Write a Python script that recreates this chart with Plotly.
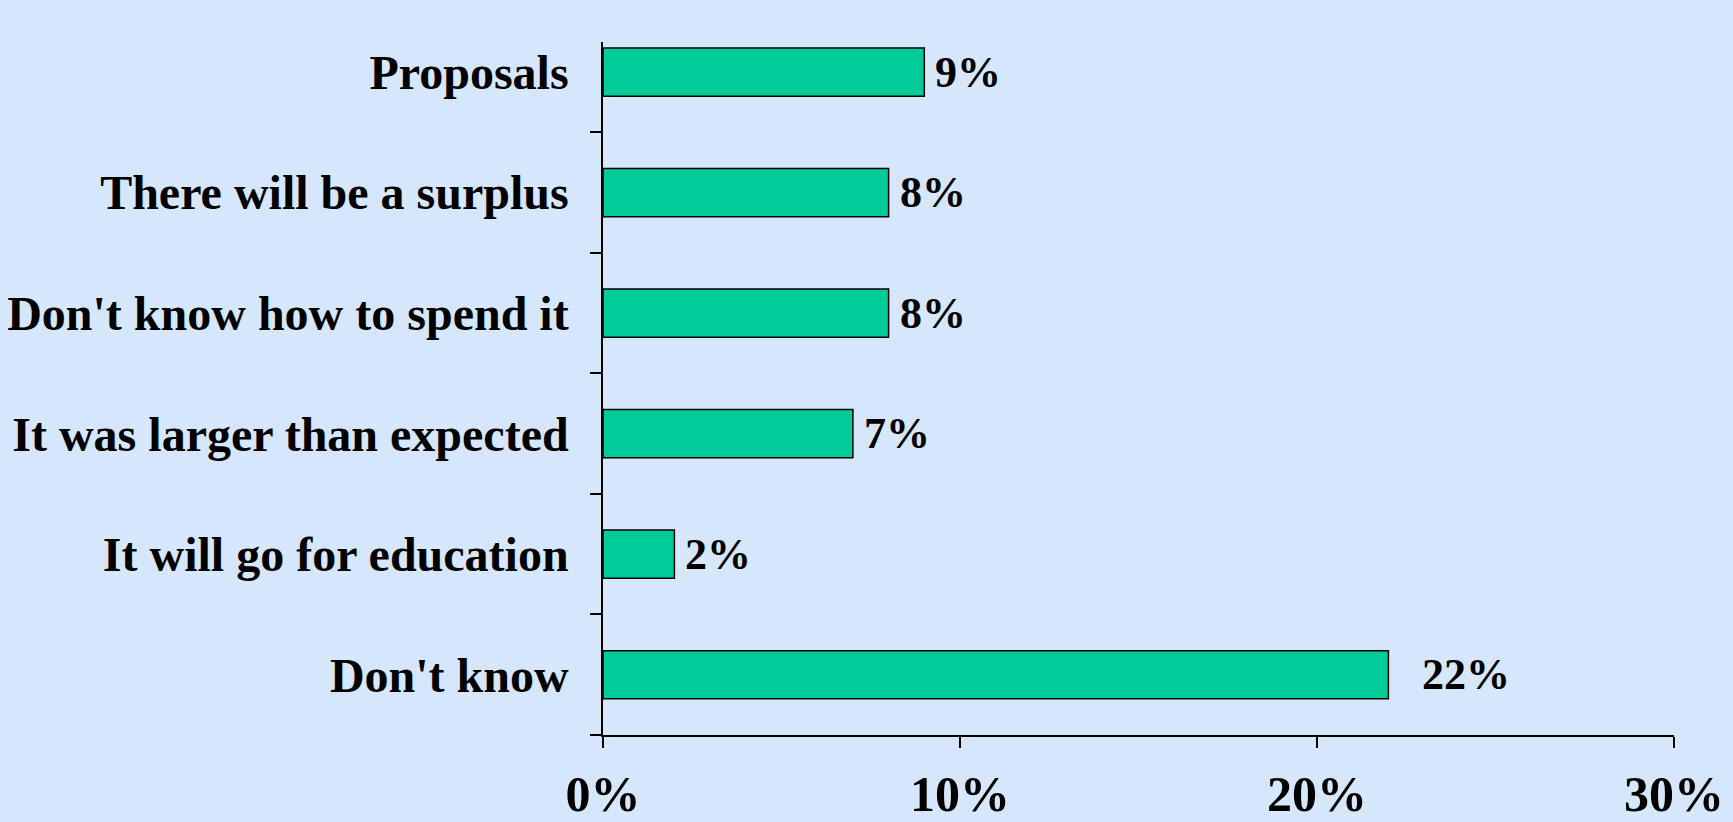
import plotly.graph_objects as go

# ------- data ------- #
categories = ["Don't know", "It will go for education", "It was larger than expected",
              "Don't know how to spend it", "There will be a surplus", "Proposals"]
shares = [22, 2, 7, 8, 8, 9]          # percent
x_ticks = [0, 10, 20, 30]
x_tick_labels = ["0%", "10%", "20%", "30%"]

bg = "#d7e7fb"
serif = "Liberation Serif"

fig = go.Figure()
fig.add_trace(go.Bar(
    y=categories, x=shares, orientation="h",
    width=0.4,
    marker=dict(color="#00cc99", line=dict(color="black", width=1.5)),
    hoverinfo="x+y",
))

# value labels just right of each bar (the 22% one sits a bit further out)
for cat, v in zip(categories, shares):
    fig.add_annotation(
        x=v, y=cat, text=f"{v}%", showarrow=False,
        xanchor="left", yanchor="middle",
        xshift=32 if v == max(shares) else 9,
        font=dict(family=serif, size=44, color="black", weight="bold"),
    )

fig.update_layout(
    width=1733, height=822,
    margin=dict(l=603, r=59, t=42, b=87),
    paper_bgcolor=bg, plot_bgcolor=bg,
    showlegend=False,
    bargap=0.6,
)

fig.update_xaxes(
    range=[0, 30], automargin=False,
    tickvals=x_ticks, ticktext=x_tick_labels,
    ticks="outside", ticklen=11, tickwidth=1.5, tickcolor="black",
    showline=True, linecolor="black", linewidth=1.5,
    showgrid=False, zeroline=False,
    tickfont=dict(family=serif, size=50, color="black", weight="bold"),
    ticklabelstandoff=3,
)
fig.update_yaxes(
    type="category", range=[-0.5, 5.25], automargin=False,
    tickson="boundaries",
    ticks="outside", ticklen=11, tickwidth=1.5, tickcolor="black",
    showline=True, linecolor="black", linewidth=1.5,
    showgrid=False, zeroline=False,
    tickfont=dict(family=serif, size=48, color="black", weight="bold"),
    ticklabelstandoff=23,
)

fig.write_html(
    "out.html",
    config={"displayModeBar": False},
    post_script="document.body.style.margin='0';document.body.style.overflow='hidden';",
)
